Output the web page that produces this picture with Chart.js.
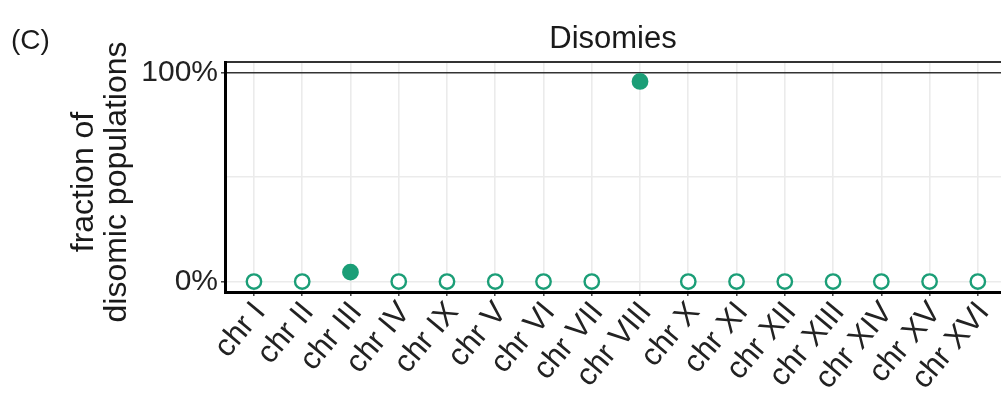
<!DOCTYPE html>
<html>
<head>
<meta charset="utf-8">
<script src="https://cdn.jsdelivr.net/npm/chart.js@4/dist/chart.umd.min.js"></script>
<style>
  html, body { margin: 0; padding: 0; background: #fff; overflow: hidden; }
  #wrap { width: 1001px; height: 395px; position: relative; }
</style>
</head>
<body>
<div id="wrap"><canvas id="c"></canvas></div>
<script>
// Chromosomes on the x axis
const categories = ['chr I', 'chr II', 'chr III', 'chr IV', 'chr IX', 'chr V', 'chr VI', 'chr VII',
                    'chr VIII', 'chr X', 'chr XI', 'chr XII', 'chr XIII', 'chr XIV', 'chr XV', 'chr XVI'];
// Percentage of populations that are disomic for each chromosome
const disomicPct = [0, 0, 4.5, 0, 0, 0, 0, 0, 95.7, 0, 0, 0, 0, 0, 0, 0];
// Y breaks (50% is a grid line only)
const yBreaks = [0, 50, 100];
const yTickLabels = { 0: '0%', 50: '', 100: '100%' };
const yTitleLines = ['fraction of', 'disomic populations'];

const GREEN = '#1B9E77';
const FONT = "'Liberation Sans', Arial, Helvetica, sans-serif";
const TEXT = '#222222';

// Panel tag and the two-line y-axis title
const annotations = {
  id: 'annotations',
  afterDraw(chart) {
    const ctx = chart.ctx;
    const area = chart.chartArea;
    ctx.save();
    ctx.fillStyle = '#1a1a1a';
    ctx.font = '28px ' + FONT;
    ctx.textBaseline = 'middle';
    ctx.textAlign = 'left';
    ctx.fillText('(C)', 11, 41);

    ctx.font = '32px ' + FONT;
    ctx.textAlign = 'center';
    const cy = (area.top + area.bottom) / 2 + 5;
    const lineGap = 33;
    yTitleLines.forEach((line, i) => {
      ctx.save();
      ctx.translate(84 + i * lineGap, cy);
      ctx.rotate(-Math.PI / 2);
      ctx.fillText(line, 0, 0);
      ctx.restore();
    });
    ctx.restore();
  }
};

new Chart(document.getElementById('c'), {
  type: 'scatter',
  data: {
    datasets: [{
      data: categories.map((c, i) => ({ x: i, y: disomicPct[i] })),
      pointRadius: 7.2,
      pointHoverRadius: 7.2,
      pointBorderWidth: 2.4,
      pointBorderColor: GREEN,
      pointBackgroundColor: ctx => (ctx.raw && ctx.raw.y > 0 ? GREEN : '#ffffff'),
      showLine: false
    }]
  },
  options: {
    responsive: true,
    maintainAspectRatio: false,
    animation: false,
    layout: { padding: 0, autoPadding: false },
    plugins: {
      legend: { display: false },
      tooltip: { enabled: false },
      title: {
        display: true,
        text: 'Disomies',
        fullSize: false,
        color: '#1a1a1a',
        font: { family: FONT, size: 31, weight: 'normal', lineHeight: 1.2 },
        padding: { top: 21, bottom: 3.8 }
      }
    },
    scales: {
      x: {
        type: 'linear',
        position: 'bottom',
        min: -0.6,
        max: 15.48,
        afterBuildTicks: s => { s.ticks = categories.map((c, i) => ({ value: i })); },
        afterFit: s => { s.height = 103; s.paddingLeft = 0; s.paddingRight = 0; },
        ticks: {
          autoSkip: false,
          maxRotation: 50,
          minRotation: 50,
          padding: -1,
          labelOffset: 6,
          color: TEXT,
          font: { family: FONT, size: 31 },
          callback: v => categories[v]
        },
        grid: {
          color: '#EBEBEB',
          lineWidth: 1.6,
          tickColor: '#333333',
          tickWidth: 1.4,
          tickLength: 4
        },
        border: { display: true, color: '#000000', width: 3 }
      },
      xTop: {
        type: 'linear',
        position: 'top',
        min: -0.6,
        max: 15.48,
        ticks: { display: false },
        grid: { display: false, drawTicks: false },
        border: { display: true, color: '#333333', width: 2 },
        afterFit: s => { s.height = 0; s.paddingLeft = 0; s.paddingRight = 0; }
      },
      y: {
        type: 'linear',
        min: -5,
        max: 105,
        afterBuildTicks: s => { s.ticks = yBreaks.map(v => ({ value: v })); },
        afterFit: s => { s.width = 225; },
        ticks: {
          padding: 3,
          color: TEXT,
          font: { family: FONT, size: 30 },
          callback: v => yTickLabels[v]
        },
        grid: {
          color: ctx => (ctx.tick && ctx.tick.value === 100 ? '#333333' : '#EBEBEB'),
          lineWidth: 1.6,
          tickColor: ctx => (ctx.tick && ctx.tick.value === 50 ? 'rgba(0,0,0,0)' : '#333333'),
          tickWidth: 1.4,
          tickLength: 4
        },
        border: { display: true, color: '#000000', width: 3 }
      }
    }
  },
  plugins: [annotations]
});
</script>
</body>
</html>
